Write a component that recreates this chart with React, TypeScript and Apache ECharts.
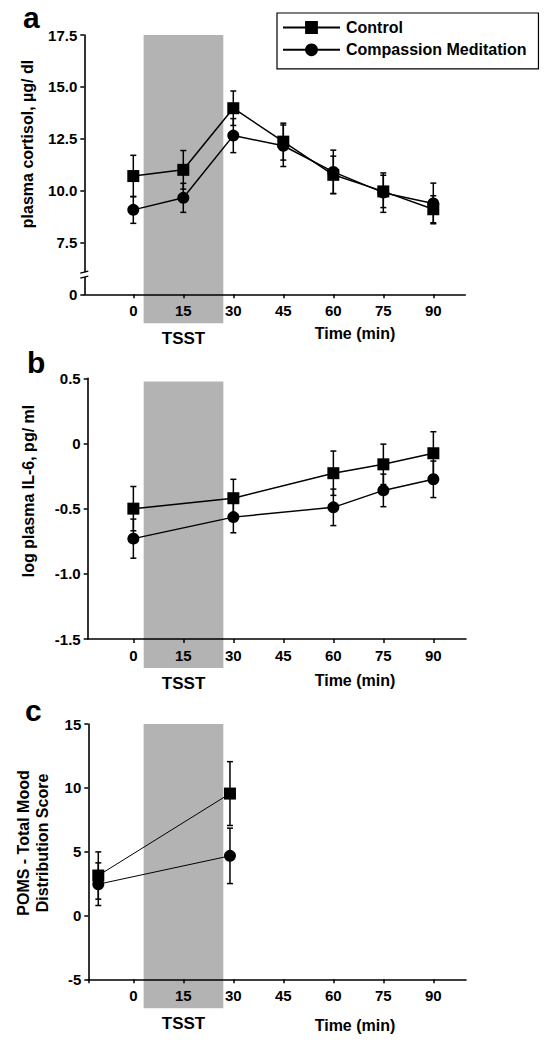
import React, { useEffect, useRef } from "react";
import * as echarts from "echarts";

// ---- data ----
const xTickValues = [0, 15, 30, 45, 60, 75, 90];
const tsstWindow = [3.1, 27];

// panel a: plasma cortisol
const timesA = [0, 15, 30, 45, 60, 75, 90];
const cortisolControl = [10.7, 11.0, 13.97, 12.36, 10.76, 9.96, 9.1];
const cortisolControlSem = [1.0, 0.93, 0.83, 0.89, 0.9, 0.78, 0.65];
const cortisolCM = [9.07, 9.65, 12.65, 12.16, 10.9, 9.9, 9.38];
const cortisolCMSem = [0.65, 0.7, 0.82, 1.0, 1.05, 0.95, 0.98];

// panel b: log plasma IL-6
const timesB = [0, 30, 60, 75, 90];
const il6Control = [-0.5, -0.42, -0.228, -0.16, -0.075];
const il6ControlSem = [0.17, 0.145, 0.17, 0.155, 0.165];
const il6CM = [-0.73, -0.565, -0.49, -0.36, -0.275];
const il6CMSem = [0.15, 0.12, 0.14, 0.125, 0.14];

// panel c: POMS total mood disturbance
const timesC = [-10.5, 29];
const pomsControl = [3.13, 9.55];
const pomsControlSem = [1.85, 2.5];
const pomsCM = [2.45, 4.67];
const pomsCMSem = [1.67, 2.17];

const FONT = '"Liberation Sans", Arial, Helvetica, sans-serif';
const BLACK = "#000";

function xAxisCfg(gridIndex: number, min: number, max: number, extraTicks: number[]) {
  return {
    type: "value",
    gridIndex,
    min,
    max,
    axisLine: { show: true, onZero: false, lineStyle: { color: BLACK, width: 1.6 } },
    axisTick: {
      show: true,
      length: 4,
      customValues: [...extraTicks, ...xTickValues],
      lineStyle: { color: BLACK, width: 1.5 },
    },
    axisLabel: {
      customValues: xTickValues,
      margin: 9,
      fontFamily: FONT,
      fontWeight: "bold",
      fontSize: 15,
      color: BLACK,
    },
    splitLine: { show: false },
  };
}

function yAxisCfg(
  gridIndex: number,
  min: number,
  max: number,
  interval: number,
  formatter: (v: number) => string
) {
  return {
    type: "value",
    gridIndex,
    min,
    max,
    interval,
    axisLine: { show: true, onZero: false, lineStyle: { color: BLACK, width: 1.6 } },
    axisTick: { show: true, length: 4, lineStyle: { color: BLACK, width: 1.5 } },
    axisLabel: {
      formatter,
      margin: 7,
      fontFamily: FONT,
      fontWeight: "bold",
      fontSize: 15,
      color: BLACK,
    },
    splitLine: { show: false },
  };
}

function lineSeries(
  name: string,
  idx: number,
  times: number[],
  vals: number[],
  symbol: string,
  width: number
) {
  return {
    type: "line",
    name,
    xAxisIndex: idx,
    yAxisIndex: idx,
    data: times.map((t, k) => [t, vals[k]]),
    symbol,
    symbolSize: 12,
    showAllSymbol: true,
    lineStyle: { color: BLACK, width },
    itemStyle: { color: BLACK },
    emphasis: { disabled: true },
    z: 4,
  };
}

function errorSeries(idx: number, times: number[], vals: number[], sem: number[]) {
  return {
    type: "custom",
    xAxisIndex: idx,
    yAxisIndex: idx,
    clip: false,
    z: 3,
    silent: true,
    data: times.map((t, k) => [t, vals[k] - sem[k], vals[k] + sem[k]]),
    encode: { x: 0, y: [1, 2] },
    renderItem: (_p: any, api: any) => {
      const x = api.value(0);
      const top = api.coord([x, api.value(2)]);
      const bot = api.coord([x, api.value(1)]);
      const st = { stroke: BLACK, lineWidth: 1.5 };
      const cw = 3;
      return {
        type: "group",
        children: [
          { type: "line", shape: { x1: top[0], y1: top[1], x2: bot[0], y2: bot[1] }, style: st },
          { type: "line", shape: { x1: top[0] - cw, y1: top[1], x2: top[0] + cw, y2: top[1] }, style: st },
          { type: "line", shape: { x1: bot[0] - cw, y1: bot[1], x2: bot[0] + cw, y2: bot[1] }, style: st },
        ],
      };
    },
  };
}

function shadeSeries(idx: number, topVal: number, minVal: number) {
  return {
    type: "custom",
    xAxisIndex: idx,
    yAxisIndex: idx,
    clip: false,
    z: -1,
    silent: true,
    data: [[tsstWindow[0], tsstWindow[1]]],
    renderItem: (_p: any, api: any) => {
      const a = api.coord([api.value(0), topVal]);
      const b = api.coord([api.value(1), minVal]);
      return {
        type: "group",
        children: [
          {
            type: "rect",
            shape: { x: a[0], y: a[1], width: b[0] - a[0], height: b[1] - a[1] + 29 },
            style: { fill: "#b3b3b3" },
          },
          {
            type: "text",
            x: (a[0] + b[0]) / 2,
            y: b[1] + 44,
            style: {
              text: "TSST",
              align: "center",
              verticalAlign: "middle",
              fontFamily: FONT,
              fontWeight: "bold",
              fontSize: 17,
              fill: BLACK,
            },
          },
        ],
      };
    },
  };
}

function breakSeries(idx: number, xVal: number, yVal: number) {
  return {
    type: "custom",
    xAxisIndex: idx,
    yAxisIndex: idx,
    clip: false,
    z: 10,
    silent: true,
    data: [[xVal, yVal]],
    renderItem: (_p: any, api: any) => {
      const p = api.coord([api.value(0), api.value(1)]);
      const st = { stroke: BLACK, lineWidth: 1.4 };
      return {
        type: "group",
        children: [
          { type: "rect", shape: { x: p[0] - 3, y: p[1] - 2.5, width: 6, height: 5 }, style: { fill: "#fff" } },
          { type: "line", shape: { x1: p[0] - 4, y1: p[1] - 1.5, x2: p[0] + 4, y2: p[1] - 3.5 }, style: st },
          { type: "line", shape: { x1: p[0] - 4, y1: p[1] + 3.5, x2: p[0] + 4, y2: p[1] + 1.5 }, style: st },
        ],
      };
    },
  };
}

function textEl(text: string, x: number, y: number, size: number, extra: any = {}) {
  return {
    type: "text",
    x,
    y,
    ...extra,
    style: {
      text,
      fontFamily: FONT,
      fontWeight: "bold",
      fontSize: size,
      fill: BLACK,
      align: extra.align || "center",
      verticalAlign: "middle",
      lineHeight: extra.lineHeight,
    },
  };
}

export default function App() {
  const ref = useRef<HTMLDivElement>(null);
  useEffect(() => {
    if (!ref.current) return;
    const chart = echarts.init(ref.current, null, { renderer: "svg" });
    const option: any = {
      animation: false,
      backgroundColor: "#fff",
      grid: [
        { left: 84.3, top: 35, width: 381, height: 259.3 },
        { left: 87.7, top: 378.3, width: 378.3, height: 260.7 },
        { left: 88.3, top: 724, width: 377.7, height: 255.3 },
      ],
      xAxis: [
        xAxisCfg(0, -14.7, -14.7 + 381 * 0.3, []),
        xAxisCfg(1, -13.7, -13.7 + 378.3 * 0.3, []),
        xAxisCfg(2, -13.5, -13.5 + 377.7 * 0.3, [-13.5]),
      ],
      yAxis: [
        yAxisCfg(0, 5, 17.5, 2.5, (v: number) => (v === 5 ? "0" : v.toFixed(1))),
        yAxisCfg(1, -1.5, 0.5, 0.5, (v: number) => (Math.abs(v) < 1e-9 ? "0" : v.toFixed(1))),
        yAxisCfg(2, -5, 15, 5, (v: number) => String(Math.round(v))),
      ],
      legend: {
        data: ["Control", "Compassion Meditation"],
        orient: "vertical",
        left: 277,
        top: 13,
        itemWidth: 57,
        itemHeight: 16,
        itemGap: 6.3,
        padding: [6.5, 12, 11, 5],
        borderColor: BLACK,
        borderWidth: 1.2,
        selectedMode: false,
        textStyle: { fontFamily: FONT, fontWeight: "bold", fontSize: 16, color: BLACK, padding: [0, 0, 0, 1] },
      },
      series: [
        shadeSeries(0, 17.5, 5),
        shadeSeries(1, 0.475, -1.5),
        shadeSeries(2, 15, -5),
        breakSeries(0, -14.7, 5.95),
        errorSeries(0, timesA, cortisolControl, cortisolControlSem),
        errorSeries(0, timesA, cortisolCM, cortisolCMSem),
        lineSeries("Control", 0, timesA, cortisolControl, "rect", 1.5),
        lineSeries("Compassion Meditation", 0, timesA, cortisolCM, "circle", 1.5),
        errorSeries(1, timesB, il6Control, il6ControlSem),
        errorSeries(1, timesB, il6CM, il6CMSem),
        lineSeries("Control", 1, timesB, il6Control, "rect", 1.5),
        lineSeries("Compassion Meditation", 1, timesB, il6CM, "circle", 1.5),
        errorSeries(2, timesC, pomsControl, pomsControlSem),
        errorSeries(2, timesC, pomsCM, pomsCMSem),
        lineSeries("Control", 2, timesC, pomsControl, "rect", 1.0),
        lineSeries("Compassion Meditation", 2, timesC, pomsCM, "circle", 1.0),
      ],
      graphic: [
        textEl("a", 23, 17.6, 30, { align: "left" }),
        textEl("b", 27, 362.6, 30, { align: "left" }),
        textEl("c", 25, 710.2, 30, { align: "left" }),
        textEl("plasma cortisol, µg/ dl", 27, 144, 16, { rotation: Math.PI / 2 }),
        textEl("log plasma IL-6, pg/ ml", 28, 491, 16, { rotation: Math.PI / 2 }),
        textEl("POMS - Total Mood\nDistribution Score", 33, 843, 16, {
          rotation: Math.PI / 2,
          lineHeight: 18.5,
        }),
        textEl("Time (min)", 355, 333.3, 16),
        textEl("Time (min)", 355, 680, 16),
        textEl("Time (min)", 355, 1025, 16),
      ],
    };
    chart.setOption(option);
    return () => chart.dispose();
  }, []);
  return (
    <div
      ref={ref}
      style={{ position: "absolute", left: 0, top: 0, width: 553, height: 1050, background: "#fff" }}
    />
  );
}
